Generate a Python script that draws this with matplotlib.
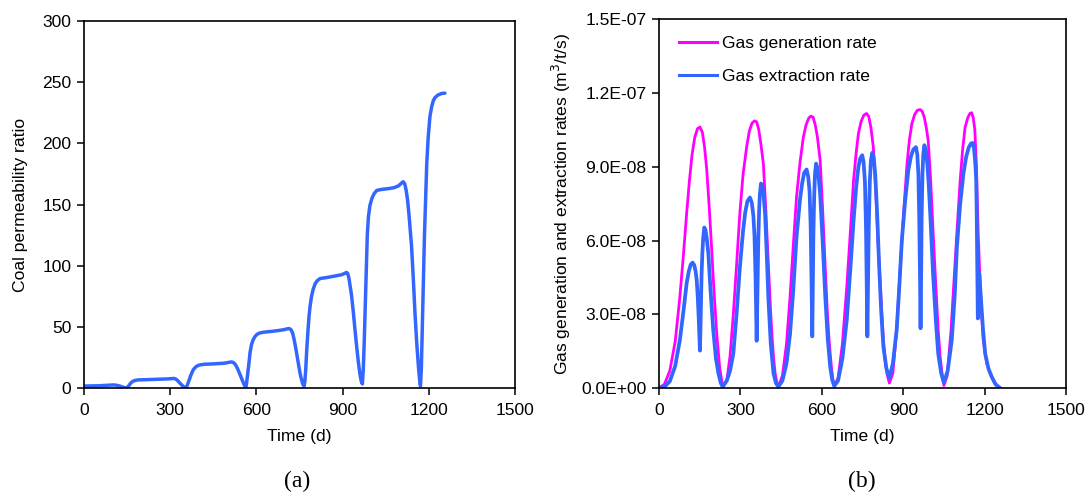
import matplotlib
matplotlib.use("Agg")
import matplotlib.pyplot as plt
from matplotlib.ticker import FuncFormatter

plt.rcParams['font.family'] = ['Liberation Sans', 'DejaVu Sans']

# ---------------- Panel (a): coal permeability ratio ----------------
perm_days = [0, 50, 90, 102, 112, 125, 137, 148, 155, 162, 170, 180, 189, 241, 290, 305, 312, 318, 324, 330, 338, 347, 355,
             360, 366, 372, 380, 388, 396, 404, 420, 450, 490, 505, 514, 520, 526, 531, 537, 543, 549, 556, 563,
             566, 570, 574, 578, 583, 589, 595, 603, 612, 625, 650, 671, 695, 706, 714, 720, 726, 731, 736, 741, 746, 752, 758, 762, 766,
             769, 772, 775, 779, 783, 787, 792, 798, 805, 813, 822, 845, 868, 895, 906, 914, 918, 922, 926, 931, 937, 943, 949, 955, 960, 965, 969,
             972, 975, 978, 982, 986, 990, 995, 1002, 1010, 1019, 1035, 1060, 1080, 1095, 1105, 1111, 1116, 1121, 1126, 1131, 1136, 1140, 1146,
             1152, 1158, 1164, 1168, 1171,
             1174, 1177, 1181, 1185, 1189, 1193, 1198, 1204, 1210, 1216, 1222, 1232, 1245, 1256]
perm_vals = [1.6, 1.8, 2.3, 2.5, 2.3, 1.6, 0.6, 0.1, 1.5, 3.8, 5.5, 6.3, 6.6, 7.0, 7.4, 7.7, 7.8, 7.5, 6.5, 5.0, 3.0, 1.0, 0.1,
             2.5, 6.5, 10.5, 14.8, 17.0, 18.3, 18.9, 19.4, 19.7, 20.3, 21.0, 21.3, 20.8, 19.5, 17.5, 14.5, 11.0, 7.5, 3.5, 0.2,
             4.0, 12.0, 20.0, 29.0, 35.5, 39.5, 42.0, 44.0, 45.0, 45.6, 46.2, 46.8, 47.6, 48.3, 48.6, 47.8, 45.0, 40.0, 34.0, 27.0, 20.0, 12.0, 6.0, 3.0, 1.6,
             6.0, 16.0, 30.0, 45.0, 58.0, 67.0, 75.0, 81.0, 85.5, 88.0, 89.5, 90.3, 91.3, 92.5, 93.5, 94.5, 93.5, 90.0, 84.0, 76.0, 63.0, 48.0, 34.0, 21.0, 12.0, 5.5, 3.3,
             15.0, 35.0, 60.0, 95.0, 125.0, 140.0, 149.0, 155.0, 159.0, 161.5, 162.3, 163.0, 163.8, 165.3, 167.5, 168.6, 167.0, 162.0, 154.0, 142.0, 128.0, 116.0, 90.0,
             61.0, 37.0, 17.5, 7.0, 1.6,
             15.0, 45.0, 88.5, 125.0, 155.0, 184.0, 205.0, 222.0, 230.0, 235.0, 237.5, 239.5, 240.8, 241.0]

# ---------------- Panel (b): gas generation / extraction rates (x 1e-9 m3/t/s) ----------------
gen_days = [0, 20, 40, 60, 77, 90, 102, 112, 122, 132, 142, 151, 160, 168, 176, 185, 194, 203, 213, 224, 235,
            250, 262, 274, 286, 298, 310, 323, 333, 343, 352, 360, 368, 376, 385, 394, 403, 412, 418, 422, 428, 434, 440,
            455, 470, 483, 495, 507, 520, 532, 542, 552, 560, 568, 576, 584, 594, 603, 612, 620, 626, 631, 636, 641, 646,
            660, 676, 692, 705, 717, 727, 735, 745, 755, 765, 773, 781, 790, 799, 808, 818, 827, 834, 840, 849,
            862, 876, 890, 902, 914, 923, 932, 942, 952, 962, 970, 978, 985, 992, 1001, 1010, 1020, 1029, 1036, 1043, 1050,
            1062, 1076, 1091, 1100, 1110, 1119, 1128, 1138, 1146, 1152, 1158, 1164, 1170, 1176, 1185, 1195, 1208, 1220, 1235, 1250]
gen_vals = [0.0, 1.5, 7.0, 19.0, 37.0, 54.0, 71.0, 84.0, 95.0, 102.0, 105.5, 106.2, 104.0, 98.0, 89.0, 74.0, 57.0, 39.0, 22.0, 8.0, 0.5,
            3.0, 13.0, 30.0, 50.0, 71.0, 87.0, 98.0, 104.5, 107.8, 108.7, 108.3, 105.0, 99.0, 91.0, 72.0, 50.7, 30.0, 19.0, 12.7, 6.0, 2.5, 0.5,
            5.0, 18.0, 37.0, 58.0, 77.8, 92.0, 102.0, 107.0, 109.8, 110.6, 110.2, 107.0, 102.0, 92.7, 73.0, 50.7, 32.0, 21.0, 14.0, 8.0, 3.5, 1.0,
            4.0, 18.0, 41.0, 63.0, 84.5, 96.0, 103.5, 108.5, 111.0, 111.7, 110.5, 106.0, 98.0, 80.0, 57.4, 37.0, 19.5, 11.0, 6.0, 2.0,
            6.0, 24.0, 50.7, 72.0, 91.0, 101.0, 107.6, 111.2, 113.0, 113.3, 112.6, 110.0, 106.0, 100.8, 85.0, 64.0, 42.0, 23.6, 13.0, 6.0, 1.0,
            5.0, 23.0, 50.7, 67.0, 84.5, 97.0, 106.0, 110.0, 111.7, 112.0, 110.0, 105.0, 90.0, 64.0, 38.0, 19.5, 10.0, 6.0, 2.5, 0.5]

ext_days = [0, 20, 40, 60, 77, 90, 102, 110, 117, 124, 130, 135, 139, 143, 147, 151, 153, 155, 157, 160, 163, 167, 171, 176, 182, 190, 200, 210, 219, 228, 235,
            250, 262, 274, 286, 298, 310, 318, 326, 335, 342, 348, 352, 356, 360, 363, 366, 369, 372, 376, 381, 386, 391, 397, 403, 412, 422, 431, 440,
            455, 470, 483, 495, 507, 520, 528, 535, 544, 550, 555, 559, 562, 565, 567, 569, 572, 575, 579, 584, 589, 594, 603, 613, 622, 631, 638, 646,
            660, 676, 692, 705, 717, 727, 735, 742, 749, 754, 759, 763, 766, 768, 770, 773, 777, 781, 786, 791, 797, 804, 811, 819, 827, 838, 849,
            862, 876, 885, 895, 907, 919, 928, 937, 947, 952, 956, 959, 962, 964, 966, 968, 971, 974, 978, 984, 989, 994, 1001, 1010, 1020, 1029, 1040, 1050,
            1064, 1079, 1090, 1098, 1110, 1122, 1132, 1142, 1150, 1156, 1161, 1166, 1169, 1171, 1173, 1175, 1177, 1179, 1181, 1183, 1186, 1194, 1202, 1214, 1226, 1240, 1257]
ext_vals = [0.0, 0.5, 2.7, 9.0, 19.5, 31.0, 42.6, 47.5, 50.2, 51.0, 50.0, 47.5, 44.0, 37.0, 27.0, 15.2, 24.0, 36.0, 46.0, 55.0, 61.0, 65.3, 64.5, 61.0, 54.7, 40.0, 23.6, 12.0, 6.0, 2.0, 0.5,
            3.0, 7.0, 14.0, 30.0, 49.0, 64.0, 71.5, 76.0, 77.5, 75.5, 70.0, 62.0, 45.0, 19.2, 40.0, 60.0, 72.0, 79.0, 83.2, 82.0, 78.0, 71.0, 55.0, 37.0, 18.0, 6.0, 2.0, 0.5,
            3.0, 10.0, 22.0, 40.0, 61.5, 77.0, 83.5, 87.5, 88.9, 86.0, 80.0, 66.0, 45.0, 21.0, 40.0, 62.0, 78.0, 87.0, 91.3, 89.5, 85.0, 79.0, 60.0, 37.0, 20.0, 8.7, 3.5, 0.8,
            3.0, 12.0, 27.6, 48.0, 68.0, 82.0, 90.0, 93.5, 94.7, 92.0, 84.0, 65.0, 40.0, 21.0, 40.0, 65.0, 84.0, 92.5, 95.7, 94.0, 87.0, 71.0, 50.7, 31.0, 16.8, 8.0, 4.0,
            10.0, 23.6, 40.0, 60.0, 76.0, 88.6, 94.0, 97.0, 98.0, 95.0, 87.0, 70.0, 45.0, 24.3, 45.0, 70.0, 87.0, 95.0, 98.8, 96.5, 91.0, 83.0, 68.0, 46.6, 28.0, 14.0, 6.0, 2.2,
            7.0, 19.5, 38.0, 57.4, 75.0, 87.3, 94.0, 98.0, 99.5, 99.7, 97.5, 91.0, 84.5, 70.0, 48.0, 28.3, 38.0, 47.0, 46.0, 42.0, 37.0, 24.0, 14.0, 8.0, 4.6, 1.5, 0.0]

rate_scale = 1e-9

x_ticks = [0, 300, 600, 900, 1200, 1500]
perm_yticks = [0, 50, 100, 150, 200, 250, 300]
rate_yticks = [0.0, 3e-8, 6e-8, 9e-8, 1.2e-7, 1.5e-7]

blue = '#3366FF'
magenta = '#FF00FF'
fs = 12.6

fig = plt.figure(figsize=(10.89, 4.98), dpi=100)
ax1 = fig.add_axes([0.0771, 0.2209, 0.3958, 0.7369])
ax2 = fig.add_axes([0.6051, 0.2209, 0.3738, 0.7403])

def style(ax):
    for s in ax.spines.values():
        s.set_linewidth(1.2)
        s.set_color('black')
    ax.tick_params(axis='both', which='both', direction='out', length=5, width=1.1,
                   labelsize=fs, colors='black')
    ax.tick_params(axis='x', top=False, pad=6)
    ax.tick_params(axis='y', right=False, pad=4)

ax1.plot(perm_days, perm_vals, color=blue, lw=2.5, solid_capstyle='round', solid_joinstyle='round')
ax1.set_xlim(0, 1500)
ax1.set_ylim(0, 300)
ax1.set_xticks(x_ticks)
ax1.set_yticks(perm_yticks)
ax1.set_xlabel('Time (d)', fontsize=fs, labelpad=8)
ax1.set_ylabel('Coal permeability ratio', fontsize=fs, labelpad=10)
style(ax1)

gen = [v * rate_scale for v in gen_vals]
ext = [v * rate_scale for v in ext_vals]
ax2.plot(gen_days, gen, color=magenta, lw=2.0, label='Gas generation rate',
         solid_joinstyle='round')
ax2.plot(ext_days, ext, color=blue, lw=2.7, label='Gas extraction rate',
         solid_joinstyle='round')
ax2.set_xlim(0, 1500)
ax2.set_ylim(0, 1.5e-7)
ax2.set_xticks(x_ticks)
ax2.set_yticks(rate_yticks)
ax2.yaxis.set_major_formatter(FuncFormatter(lambda v, p: f"{v:.1E}"))
ax2.set_xlabel('Time (d)', fontsize=fs, labelpad=8)
ax2.set_ylabel('Gas generation and extraction rates (m$^3$/t/s)', fontsize=fs, labelpad=6)
style(ax2)
leg = ax2.legend(loc='upper left', frameon=False, fontsize=fs, handlelength=2.2,
                 handletextpad=0.25, labelspacing=1.0, bbox_to_anchor=(0.049, 0.955),
                 borderaxespad=0.0, borderpad=0.0)
for h in leg.get_lines():
    h.set_linewidth(2.2)

fig.text(0.2727, 0.012, '(a)', fontsize=17, family=['Liberation Serif', 'DejaVu Serif'],
         ha='center', va='bottom')
fig.text(0.7915, 0.012, '(b)', fontsize=17, family=['Liberation Serif', 'DejaVu Serif'],
         ha='center', va='bottom')

fig.savefig('out.png', dpi=100)
